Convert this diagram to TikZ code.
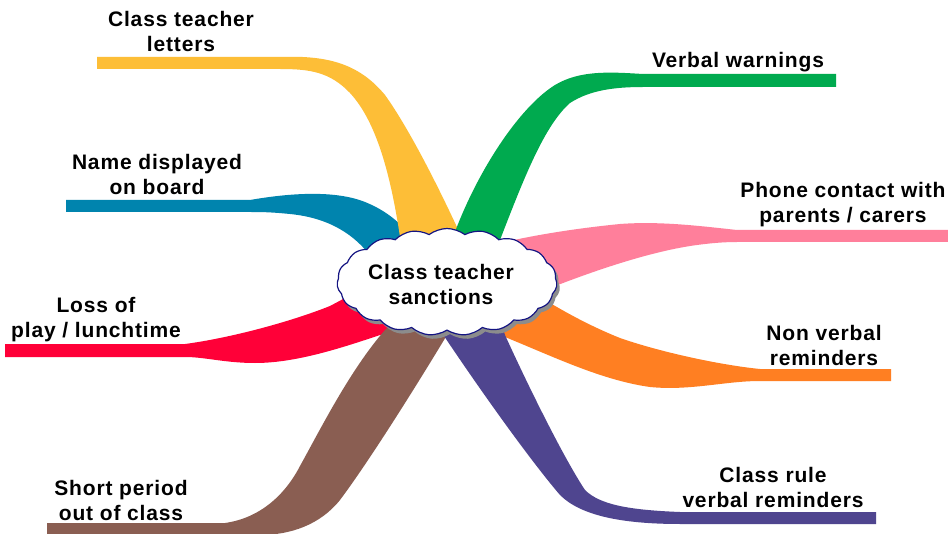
\documentclass[tikz,border=0pt]{standalone}
\usepackage{fontspec}
\usetikzlibrary{shapes.symbols,shadows}
\newfontfamily\lblfont{Liberation Sans}[LetterSpace=4]
\definecolor{cyel}{RGB}{253,190,55}
\definecolor{cblu}{RGB}{0,132,174}
\definecolor{cgrn}{RGB}{0,170,79}
\definecolor{cpnk}{RGB}{255,127,155}
\definecolor{cred}{RGB}{255,0,56}
\definecolor{cbrn}{RGB}{138,94,82}
\definecolor{corg}{RGB}{255,127,34}
\definecolor{cpur}{RGB}{79,69,143}
\definecolor{cnavy}{RGB}{20,20,130}
\definecolor{cshad}{RGB}{140,140,140}
\begin{document}
\begin{tikzpicture}[x=1bp,y=-1bp,
  lbl/.style={align=center,inner sep=0pt,font=\lblfont\bfseries\fontsize{21bp}{25bp}\selectfont},
  cloudbox/.style={cloud,cloud puffs=19,cloud puff arc=75,cloud ignores aspect,
    minimum width=220bp,minimum height=107bp,inner sep=0pt,
    draw=cnavy,line width=1.2bp,fill=white,
    drop shadow={fill=cshad,opacity=1,shadow xshift=3bp,shadow yshift=-4bp}}]
\useasboundingbox (0,0) rectangle (948,534);
\fill[white] (0,0) rectangle (948,534);
% ribbons
\fill[cblu] (66,200) -- (250,200) .. controls (290,193) and (335,190) .. (365,202)
  .. controls (385,210) and (400,222) .. (415,240) -- (420,258) -- (372,258)
  .. controls (355,235) and (330,218) .. (290,214) .. controls (270,212) and (260,212) .. (250,212)
  -- (66,212) -- cycle;
\fill[cyel] (97,57) -- (280,57) .. controls (330,55) and (360,65) .. (385,95)
  .. controls (410,130) and (440,190) .. (462,238) -- (468,255) -- (402,255) -- (400,237)
  .. controls (390,170) and (375,120) .. (350,93) .. controls (330,72) and (310,69) .. (280,69)
  -- (97,69) -- cycle;
\fill[cgrn] (836,74) -- (643,74) .. controls (610,72) and (580,70) .. (555,85)
  .. controls (518,108) and (475,175) .. (452,240) -- (450,255) -- (498,255) -- (500,240)
  .. controls (525,175) and (545,125) .. (570,103) .. controls (590,90) and (615,87) .. (643,87)
  -- (836,87) -- cycle;
\fill[cpnk] (950,230) -- (737,230) .. controls (700,226) and (660,221) .. (620,224)
  .. controls (580,228) and (540,234) .. (505,242) -- (505,290) -- (540,292)
  .. controls (580,276) and (640,254) .. (690,246) .. controls (710,243) and (725,242) .. (737,242)
  -- (950,242) -- cycle;
\fill[cred] (5,344) -- (185,344) .. controls (230,338) and (290,322) .. (330,306)
  -- (360,290) -- (400,320) -- (395,330)
  .. controls (350,345) and (300,363) .. (255,363) .. controls (225,363) and (205,357) .. (185,357)
  -- (5,357) -- cycle;
\fill[cbrn] (47,523) -- (225,523) .. controls (260,518) and (285,495) .. (300,466)
  .. controls (320,430) and (350,370) .. (385,330) -- (400,315) -- (455,320) -- (450,330)
  .. controls (420,380) and (370,460) .. (340,500) .. controls (320,525) and (290,535) .. (260,535)
  -- (47,535) -- cycle;
\fill[corg] (891,369) -- (760,369) .. controls (720,365) and (660,352) .. (620,338)
  .. controls (590,326) and (565,312) .. (545,300) -- (520,300) -- (500,335)
  .. controls (550,355) and (600,380) .. (650,387) .. controls (690,391) and (725,381) .. (760,381)
  -- (891,381) -- cycle;
\fill[cpur] (876,512) -- (680,512) .. controls (630,510) and (600,505) .. (585,490)
  .. controls (565,460) and (530,390) .. (505,335) -- (500,320) -- (440,320) -- (440,330)
  .. controls (480,390) and (530,460) .. (560,495) .. controls (580,515) and (620,524) .. (680,524)
  -- (876,524) -- cycle;
% hub
\node[cloudbox] (hub) at (447,282) {};
\node[lbl] (hubtext) at (441,284) {Class teacher\\sanctions};
% labels
\node[lbl] (letters) at (181,31) {Class teacher\\letters};
\node[lbl] (board) at (157,174) {Name displayed\\on board};
\node[lbl] (verbal) at (738,62) {Verbal warnings};
\node[lbl] (phone) at (843,205) {Phone contact with\\parents / carers};
\node[lbl] (loss) at (96,320) {Loss of\\play / lunchtime};
\node[lbl] (nonverbal) at (824,345) {Non verbal\\reminders};
\node[lbl] (rule) at (773,487) {Class rule\\verbal reminders};
\node[lbl] (short) at (121,500) {Short period\\out of class};
\end{tikzpicture}
\end{document}
